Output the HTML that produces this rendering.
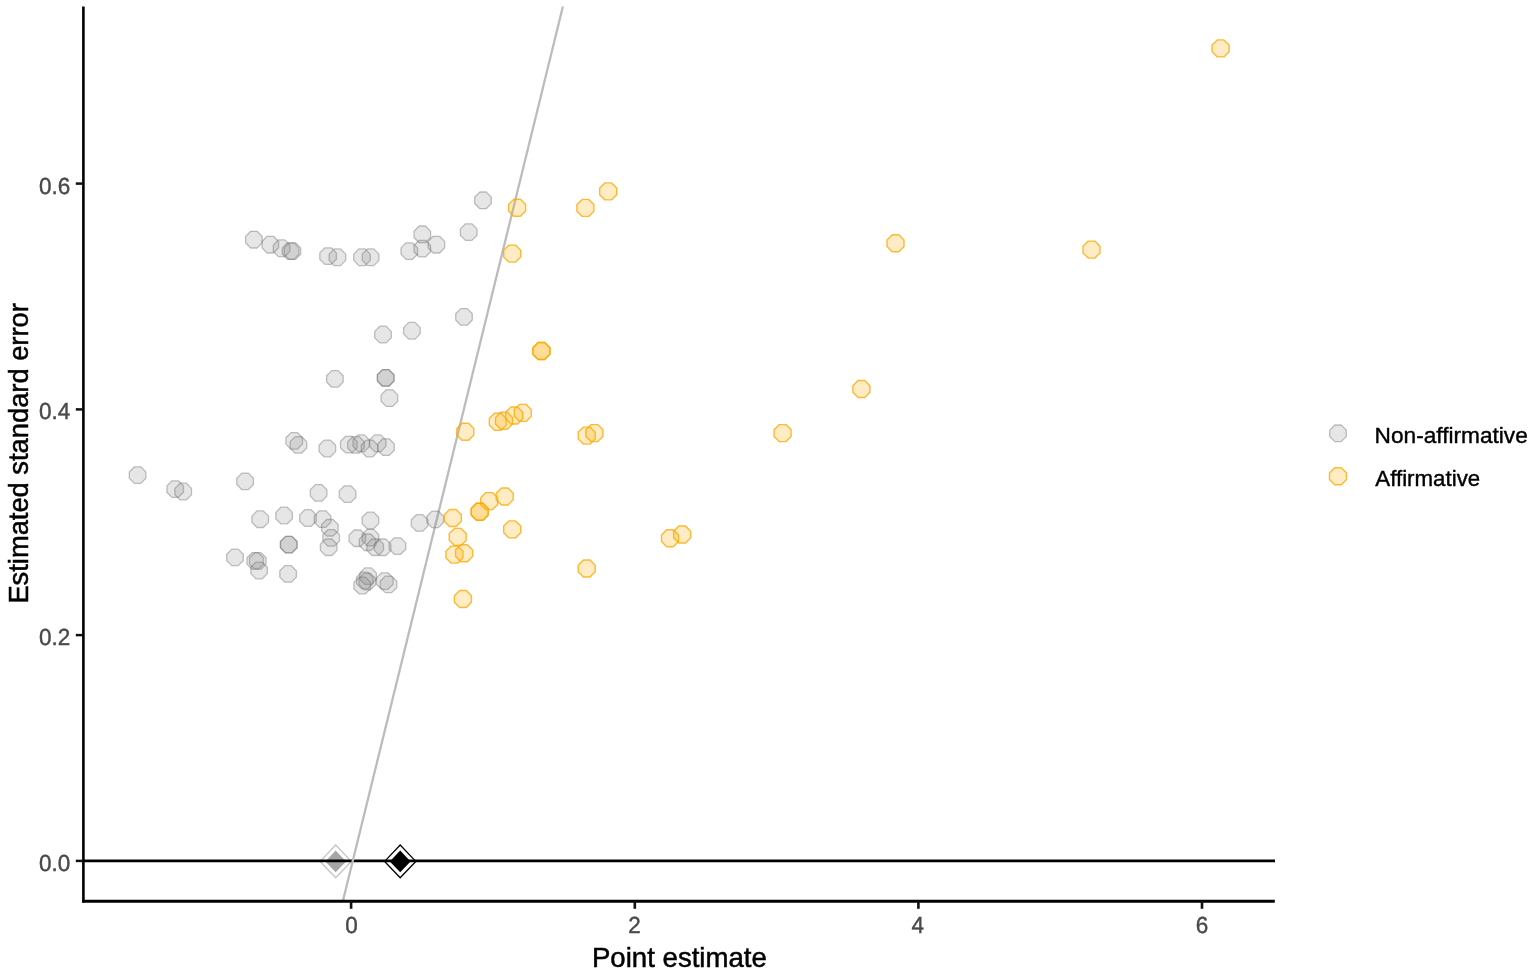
<!DOCTYPE html>
<html lang="en">
<head>
<meta charset="utf-8">
<title>Point estimate vs. estimated standard error</title>
<style>
html,body{margin:0;padding:0;background:#fff;}
body{width:1535px;height:974px;overflow:hidden;font-family:"Liberation Sans",Arial,sans-serif;}
svg{display:block;}
.tick{font-size:22.5px;fill:#4a4a4a;stroke:#4a4a4a;stroke-width:0.4px;text-rendering:geometricPrecision;}
.title{font-size:27.6px;fill:#000;stroke:#000;stroke-width:0.5px;}
.leg{font-size:22.6px;fill:#000;stroke:#000;stroke-width:0.4px;}
.g{stroke-linejoin:round;fill:rgba(128,128,128,0.2);stroke:rgba(110,110,110,0.42);stroke-width:1.3;}
.o{stroke-linejoin:round;fill:rgba(255,172,0,0.23);stroke:rgba(252,168,0,0.78);stroke-width:1.4;}
</style>
</head>
<body>
<svg width="1535" height="974" viewBox="0 0 1535 974" font-family="'Liberation Sans', Arial, sans-serif">
<rect width="1535" height="974" fill="#fff"/>
<polygon points="335.7,845.0 351.3,861.4 335.7,877.8 320.1,861.4" fill="#fff" stroke="#c4c4c4" stroke-width="1.3"/>
<polygon points="335.7,850.6 346.1,861.4 335.7,872.2 325.3,861.4" fill="#a6a6a6"/>
<polygon points="400.2,845.0 415.8,861.4 400.2,877.8 384.6,861.4" fill="#fff" stroke="#000" stroke-width="1.3"/>
<polygon points="400.2,850.6 410.6,861.4 400.2,872.2 389.8,861.4" fill="#000"/>
<line x1="83.5" y1="860.85" x2="1275" y2="860.85" stroke="#000" stroke-width="2.6"/>
<line x1="342.9" y1="901" x2="562.9" y2="6.6" stroke="#bcbcbc" stroke-width="2.3"/>
<g class="g">
<polygon points="257.1,231.3 262.2,236.5 262.2,242.8 257.1,248.0 250.7,248.0 245.6,242.8 245.6,236.5 250.7,231.3"/>
<polygon points="273.5,236.3 278.6,241.5 278.6,247.8 273.5,253.0 267.1,253.0 262.0,247.8 262.0,241.5 267.1,236.3"/>
<polygon points="284.8,239.9 289.9,245.1 289.9,251.4 284.8,256.6 278.4,256.6 273.3,251.4 273.3,245.1 278.4,239.9"/>
<polygon points="293.8,242.8 298.9,247.9 298.9,254.2 293.8,259.4 287.4,259.4 282.3,254.2 282.3,247.9 287.4,242.8"/>
<polygon points="295.6,242.8 300.7,247.9 300.7,254.2 295.6,259.4 289.2,259.4 284.1,254.2 284.1,247.9 289.2,242.8"/>
<polygon points="331.3,247.8 336.4,252.9 336.4,259.2 331.3,264.4 324.9,264.4 319.8,259.2 319.8,252.9 324.9,247.8"/>
<polygon points="340.6,248.9 345.7,254.1 345.7,260.4 340.6,265.6 334.2,265.6 329.1,260.4 329.1,254.1 334.2,248.9"/>
<polygon points="365.2,248.9 370.3,254.1 370.3,260.4 365.2,265.6 358.8,265.6 353.7,260.4 353.7,254.1 358.8,248.9"/>
<polygon points="373.8,248.9 378.9,254.1 378.9,260.4 373.8,265.6 367.4,265.6 362.3,260.4 362.3,254.1 367.4,248.9"/>
<polygon points="412.5,242.8 417.6,247.9 417.6,254.2 412.5,259.4 406.1,259.4 401.0,254.2 401.0,247.9 406.1,242.8"/>
<polygon points="425.5,240.3 430.6,245.5 430.6,251.8 425.5,256.9 419.1,256.9 414.0,251.8 414.0,245.5 419.1,240.3"/>
<polygon points="425.5,226.0 430.6,231.2 430.6,237.5 425.5,242.7 419.1,242.7 414.0,237.5 414.0,231.2 419.1,226.0"/>
<polygon points="439.6,236.3 444.7,241.5 444.7,247.8 439.6,253.0 433.2,253.0 428.1,247.8 428.1,241.5 433.2,236.3"/>
<polygon points="471.9,223.8 477.0,228.9 477.0,235.2 471.9,240.4 465.5,240.4 460.4,235.2 460.4,228.9 465.5,223.8"/>
<polygon points="486.2,192.0 491.3,197.2 491.3,203.5 486.2,208.7 479.8,208.7 474.7,203.5 474.7,197.2 479.8,192.0"/>
<polygon points="467.2,308.6 472.3,313.7 472.3,320.0 467.2,325.2 460.8,325.2 455.7,320.0 455.7,313.7 460.8,308.6"/>
<polygon points="415.1,322.4 420.2,327.6 420.2,333.9 415.1,339.1 408.7,339.1 403.6,333.9 403.6,327.6 408.7,322.4"/>
<polygon points="386.2,326.2 391.3,331.4 391.3,337.7 386.2,342.9 379.8,342.9 374.7,337.7 374.7,331.4 379.8,326.2"/>
<polygon points="338.1,370.6 343.2,375.7 343.2,382.0 338.1,387.2 331.7,387.2 326.6,382.0 326.6,375.7 331.7,370.6"/>
<polygon points="388.8,369.6 393.9,374.7 393.9,381.0 388.8,386.2 382.4,386.2 377.3,381.0 377.3,374.7 382.4,369.6"/>
<polygon points="389.0,369.6 394.1,374.7 394.1,381.0 389.0,386.2 382.6,386.2 377.5,381.0 377.5,374.7 382.6,369.6"/>
<polygon points="392.6,389.8 397.7,394.9 397.7,401.2 392.6,406.4 386.2,406.4 381.1,401.2 381.1,394.9 386.2,389.8"/>
<polygon points="140.8,466.8 145.9,472.0 145.9,478.3 140.8,483.4 134.4,483.4 129.3,478.3 129.3,472.0 134.4,466.8"/>
<polygon points="178.4,480.8 183.5,485.9 183.5,492.2 178.4,497.4 172.0,497.4 166.9,492.2 166.9,485.9 172.0,480.8"/>
<polygon points="186.4,483.2 191.5,488.4 191.5,494.7 186.4,499.9 180.0,499.9 174.9,494.7 174.9,488.4 180.0,483.2"/>
<polygon points="248.3,473.1 253.4,478.2 253.4,484.5 248.3,489.7 241.9,489.7 236.8,484.5 236.8,478.2 241.9,473.1"/>
<polygon points="297.4,432.6 302.5,437.8 302.5,444.1 297.4,449.2 291.0,449.2 285.9,444.1 285.9,437.8 291.0,432.6"/>
<polygon points="301.6,436.6 306.7,441.7 306.7,448.0 301.6,453.2 295.2,453.2 290.1,448.0 290.1,441.7 295.2,436.6"/>
<polygon points="330.5,440.1 335.6,445.3 335.6,451.6 330.5,456.8 324.1,456.8 319.0,451.6 319.0,445.3 324.1,440.1"/>
<polygon points="352.0,436.3 357.1,441.5 357.1,447.8 352.0,452.9 345.6,452.9 340.5,447.8 340.5,441.5 345.6,436.3"/>
<polygon points="359.2,436.6 364.3,441.7 364.3,448.0 359.2,453.2 352.8,453.2 347.7,448.0 347.7,441.7 352.8,436.6"/>
<polygon points="364.5,434.9 369.6,440.1 369.6,446.4 364.5,451.6 358.1,451.6 353.0,446.4 353.0,440.1 358.1,434.9"/>
<polygon points="372.8,440.1 377.9,445.3 377.9,451.6 372.8,456.8 366.4,456.8 361.3,451.6 361.3,445.3 366.4,440.1"/>
<polygon points="380.9,434.9 386.0,440.1 386.0,446.4 380.9,451.6 374.5,451.6 369.4,446.4 369.4,440.1 374.5,434.9"/>
<polygon points="389.2,438.8 394.3,444.0 394.3,450.3 389.2,455.4 382.8,455.4 377.7,450.3 377.7,444.0 382.8,438.8"/>
<polygon points="321.8,484.6 326.9,489.8 326.9,496.1 321.8,501.2 315.4,501.2 310.3,496.1 310.3,489.8 315.4,484.6"/>
<polygon points="350.8,485.8 355.9,490.9 355.9,497.2 350.8,502.4 344.4,502.4 339.3,497.2 339.3,490.9 344.4,485.8"/>
<polygon points="263.4,510.9 268.5,516.1 268.5,522.4 263.4,527.5 257.0,527.5 251.9,522.4 251.9,516.1 257.0,510.9"/>
<polygon points="287.3,507.2 292.4,512.4 292.4,518.7 287.3,523.8 280.9,523.8 275.8,518.7 275.8,512.4 280.9,507.2"/>
<polygon points="311.2,509.7 316.3,514.9 316.3,521.2 311.2,526.3 304.8,526.3 299.7,521.2 299.7,514.9 304.8,509.7"/>
<polygon points="325.8,510.8 330.9,516.0 330.9,522.3 325.8,527.4 319.4,527.4 314.3,522.3 314.3,516.0 319.4,510.8"/>
<polygon points="333.1,519.5 338.2,524.6 338.2,530.9 333.1,536.0 326.7,536.0 321.6,530.9 321.6,524.6 326.7,519.5"/>
<polygon points="334.4,529.7 339.5,534.8 339.5,541.1 334.4,546.2 328.0,546.2 322.9,541.1 322.9,534.8 328.0,529.7"/>
<polygon points="331.9,539.0 337.0,544.1 337.0,550.4 331.9,555.5 325.5,555.5 320.4,550.4 320.4,544.1 325.5,539.0"/>
<polygon points="291.8,536.4 296.9,541.5 296.9,547.8 291.8,552.9 285.4,552.9 280.3,547.8 280.3,541.5 285.4,536.4"/>
<polygon points="292.1,536.4 297.2,541.5 297.2,547.8 292.1,552.9 285.7,552.9 280.6,547.8 280.6,541.5 285.7,536.4"/>
<polygon points="373.6,512.2 378.7,517.3 378.7,523.6 373.6,528.8 367.2,528.8 362.1,523.6 362.1,517.3 367.2,512.2"/>
<polygon points="360.5,530.0 365.6,535.1 365.6,541.4 360.5,546.5 354.1,546.5 349.0,541.4 349.0,535.1 354.1,530.0"/>
<polygon points="373.6,529.4 378.7,534.5 378.7,540.8 373.6,545.9 367.2,545.9 362.1,540.8 362.1,534.5 367.2,529.4"/>
<polygon points="370.8,534.0 375.9,539.1 375.9,545.4 370.8,550.5 364.4,550.5 359.3,545.4 359.3,539.1 364.4,534.0"/>
<polygon points="378.4,539.0 383.5,544.1 383.5,550.4 378.4,555.5 372.0,555.5 366.9,550.4 366.9,544.1 372.0,539.0"/>
<polygon points="385.8,539.0 390.9,544.1 390.9,550.4 385.8,555.5 379.4,555.5 374.3,550.4 374.3,544.1 379.4,539.0"/>
<polygon points="400.7,537.8 405.8,542.9 405.8,549.2 400.7,554.3 394.3,554.3 389.2,549.2 389.2,542.9 394.3,537.8"/>
<polygon points="422.8,514.7 427.9,519.8 427.9,526.1 422.8,531.2 416.4,531.2 411.3,526.1 411.3,519.8 416.4,514.7"/>
<polygon points="438.4,511.1 443.5,516.2 443.5,522.5 438.4,527.6 432.0,527.6 426.9,522.5 426.9,516.2 432.0,511.1"/>
<polygon points="238.2,549.1 243.3,554.2 243.3,560.5 238.2,565.6 231.8,565.6 226.7,560.5 226.7,554.2 231.8,549.1"/>
<polygon points="258.4,552.7 263.5,557.8 263.5,564.1 258.4,569.2 252.0,569.2 246.9,564.1 246.9,557.8 252.0,552.7"/>
<polygon points="261.0,552.7 266.1,557.8 266.1,564.1 261.0,569.2 254.6,569.2 249.5,564.1 249.5,557.8 254.6,552.7"/>
<polygon points="262.3,562.2 267.4,567.3 267.4,573.6 262.3,578.8 255.9,578.8 250.8,573.6 250.8,567.3 255.9,562.2"/>
<polygon points="291.3,565.7 296.4,570.8 296.4,577.1 291.3,582.2 284.9,582.2 279.8,577.1 279.8,570.8 284.9,565.7"/>
<polygon points="371.3,567.9 376.4,573.0 376.4,579.3 371.3,584.4 364.9,584.4 359.8,579.3 359.8,573.0 364.9,567.9"/>
<polygon points="370.5,573.4 375.6,578.5 375.6,584.8 370.5,589.9 364.1,589.9 359.0,584.8 359.0,578.5 364.1,573.4"/>
<polygon points="368.0,572.2 373.1,577.3 373.1,583.6 368.0,588.8 361.6,588.8 356.5,583.6 356.5,577.3 361.6,572.2"/>
<polygon points="365.4,577.2 370.5,582.4 370.5,588.7 365.4,593.8 359.0,593.8 353.9,588.7 353.9,582.4 359.0,577.2"/>
<polygon points="388.0,572.8 393.1,577.9 393.1,584.2 388.0,589.3 381.6,589.3 376.5,584.2 376.5,577.9 381.6,572.8"/>
<polygon points="391.7,576.1 396.8,581.2 396.8,587.5 391.7,592.6 385.3,592.6 380.2,587.5 380.2,581.2 385.3,576.1"/>
</g>
<g class="o">
<polygon points="520.4,199.3 525.6,204.5 525.6,211.1 520.4,216.3 513.8,216.3 508.6,211.1 508.6,204.5 513.8,199.3"/>
<polygon points="588.7,199.4 593.9,204.6 593.9,211.2 588.7,216.4 582.1,216.4 576.9,211.2 576.9,204.6 582.1,199.4"/>
<polygon points="611.5,182.9 616.7,188.1 616.7,194.7 611.5,199.9 604.9,199.9 599.7,194.7 599.7,188.1 604.9,182.9"/>
<polygon points="515.5,245.1 520.7,250.3 520.7,256.9 515.5,262.1 508.9,262.1 503.7,256.9 503.7,250.3 508.9,245.1"/>
<polygon points="544.6,342.5 549.8,347.7 549.8,354.3 544.6,359.5 538.0,359.5 532.8,354.3 532.8,347.7 538.0,342.5"/>
<polygon points="544.8,342.5 550.0,347.7 550.0,354.3 544.8,359.5 538.2,359.5 533.0,354.3 533.0,347.7 538.2,342.5"/>
<polygon points="468.6,423.2 473.8,428.4 473.8,435.0 468.6,440.2 462.0,440.2 456.8,435.0 456.8,428.4 462.0,423.2"/>
<polygon points="501.1,413.2 506.3,418.4 506.3,425.0 501.1,430.2 494.5,430.2 489.3,425.0 489.3,418.4 494.5,413.2"/>
<polygon points="507.3,412.2 512.5,417.4 512.5,424.0 507.3,429.2 500.7,429.2 495.5,424.0 495.5,417.4 500.7,412.2"/>
<polygon points="517.5,407.0 522.7,412.2 522.7,418.8 517.5,424.0 510.9,424.0 505.7,418.8 505.7,412.2 510.9,407.0"/>
<polygon points="526.1,404.4 531.3,409.6 531.3,416.2 526.1,421.4 519.5,421.4 514.3,416.2 514.3,409.6 519.5,404.4"/>
<polygon points="590.0,427.1 595.2,432.3 595.2,438.9 590.0,444.1 583.4,444.1 578.2,438.9 578.2,432.3 583.4,427.1"/>
<polygon points="597.7,424.6 602.9,429.8 602.9,436.4 597.7,441.6 591.1,441.6 585.9,436.4 585.9,429.8 591.1,424.6"/>
<polygon points="785.9,424.6 791.1,429.8 791.1,436.4 785.9,441.6 779.3,441.6 774.1,436.4 774.1,429.8 779.3,424.6"/>
<polygon points="864.7,380.5 869.9,385.7 869.9,392.3 864.7,397.5 858.1,397.5 852.9,392.3 852.9,385.7 858.1,380.5"/>
<polygon points="898.8,234.7 904.0,239.9 904.0,246.5 898.8,251.7 892.2,251.7 887.0,246.5 887.0,239.9 892.2,234.7"/>
<polygon points="1094.8,241.1 1100.0,246.3 1100.0,252.9 1094.8,258.1 1088.2,258.1 1083.0,252.9 1083.0,246.3 1088.2,241.1"/>
<polygon points="1223.9,39.9 1229.1,45.1 1229.1,51.7 1223.9,56.9 1217.3,56.9 1212.1,51.7 1212.1,45.1 1217.3,39.9"/>
<polygon points="456.1,509.5 461.3,514.7 461.3,521.3 456.1,526.5 449.5,526.5 444.3,521.3 444.3,514.7 449.5,509.5"/>
<polygon points="461.0,528.4 466.2,533.6 466.2,540.2 461.0,545.4 454.4,545.4 449.2,540.2 449.2,533.6 454.4,528.4"/>
<polygon points="457.7,546.1 462.9,551.3 462.9,557.9 457.7,563.1 451.1,563.1 445.9,557.9 445.9,551.3 451.1,546.1"/>
<polygon points="467.4,544.8 472.6,550.0 472.6,556.6 467.4,561.8 460.8,561.8 455.6,556.6 455.6,550.0 460.8,544.8"/>
<polygon points="482.9,503.3 488.1,508.5 488.1,515.1 482.9,520.3 476.3,520.3 471.1,515.1 471.1,508.5 476.3,503.3"/>
<polygon points="483.1,503.3 488.3,508.5 488.3,515.1 483.1,520.3 476.5,520.3 471.3,515.1 471.3,508.5 476.5,503.3"/>
<polygon points="492.5,492.6 497.7,497.8 497.7,504.4 492.5,509.6 485.9,509.6 480.7,504.4 480.7,497.8 485.9,492.6"/>
<polygon points="508.0,488.0 513.2,493.2 513.2,499.8 508.0,505.0 501.4,505.0 496.2,499.8 496.2,493.2 501.4,488.0"/>
<polygon points="515.5,520.9 520.7,526.1 520.7,532.7 515.5,537.9 508.9,537.9 503.7,532.7 503.7,526.1 508.9,520.9"/>
<polygon points="466.2,590.5 471.4,595.7 471.4,602.3 466.2,607.5 459.6,607.5 454.4,602.3 454.4,595.7 459.6,590.5"/>
<polygon points="590.0,560.0 595.2,565.2 595.2,571.8 590.0,577.0 583.4,577.0 578.2,571.8 578.2,565.2 583.4,560.0"/>
<polygon points="673.3,529.7 678.5,534.9 678.5,541.5 673.3,546.7 666.7,546.7 661.5,541.5 661.5,534.9 666.7,529.7"/>
<polygon points="685.5,526.0 690.7,531.2 690.7,537.8 685.5,543.0 678.9,543.0 673.7,537.8 673.7,531.2 678.9,526.0"/>
</g>
<line x1="83.4" y1="6.4" x2="83.4" y2="902.4" stroke="#000" stroke-width="2.6"/>
<line x1="82.1" y1="901.25" x2="1274.8" y2="901.25" stroke="#000" stroke-width="2.8"/>
<line x1="75.8" y1="860.9" x2="83" y2="860.9" stroke="#111" stroke-width="2.5"/>
<text class="tick" transform="translate(70.2,870.9) scale(1,1.03)" text-anchor="end">0.0</text>
<line x1="75.8" y1="635.1" x2="83" y2="635.1" stroke="#111" stroke-width="2.5"/>
<text class="tick" transform="translate(70.2,645.1) scale(1,1.03)" text-anchor="end">0.2</text>
<line x1="75.8" y1="409.4" x2="83" y2="409.4" stroke="#111" stroke-width="2.5"/>
<text class="tick" transform="translate(70.2,419.4) scale(1,1.03)" text-anchor="end">0.4</text>
<line x1="75.8" y1="183.6" x2="83" y2="183.6" stroke="#111" stroke-width="2.5"/>
<text class="tick" transform="translate(70.2,193.6) scale(1,1.03)" text-anchor="end">0.6</text>
<line x1="351.1" y1="901" x2="351.1" y2="908.8" stroke="#111" stroke-width="2.6"/>
<text class="tick" transform="translate(351.6,933.0) scale(1,1.03)" text-anchor="middle">0</text>
<line x1="634.8" y1="901" x2="634.8" y2="908.8" stroke="#111" stroke-width="2.6"/>
<text class="tick" transform="translate(634.4,933.0) scale(1,1.03)" text-anchor="middle">2</text>
<line x1="918.4" y1="901" x2="918.4" y2="908.8" stroke="#111" stroke-width="2.6"/>
<text class="tick" transform="translate(917.7,933.0) scale(1,1.03)" text-anchor="middle">4</text>
<line x1="1202.0" y1="901" x2="1202.0" y2="908.8" stroke="#111" stroke-width="2.6"/>
<text class="tick" transform="translate(1201.9,933.0) scale(1,1.03)" text-anchor="middle">6</text>
<text class="title" x="679.4" y="967" text-anchor="middle">Point estimate</text>
<text class="title" transform="translate(28,453.4) rotate(-90)" x="-150.2" textLength="300.4" lengthAdjust="spacingAndGlyphs">Estimated standard error</text>
<polygon class="g" points="1341.2,425.0 1346.3,430.1 1346.3,436.5 1341.2,441.6 1334.8,441.6 1329.7,436.5 1329.7,430.1 1334.8,425.0"/>
<polygon class="o" points="1341.3,467.7 1346.5,472.9 1346.5,479.5 1341.3,484.7 1334.7,484.7 1329.5,479.5 1329.5,472.9 1334.7,467.7"/>
<text class="leg" x="1374.6" y="443.2" textLength="153.2" lengthAdjust="spacingAndGlyphs">Non-affirmative</text>
<text class="leg" x="1375.3" y="486.2" textLength="104.9" lengthAdjust="spacingAndGlyphs">Affirmative</text>
</svg>
</body>
</html>
